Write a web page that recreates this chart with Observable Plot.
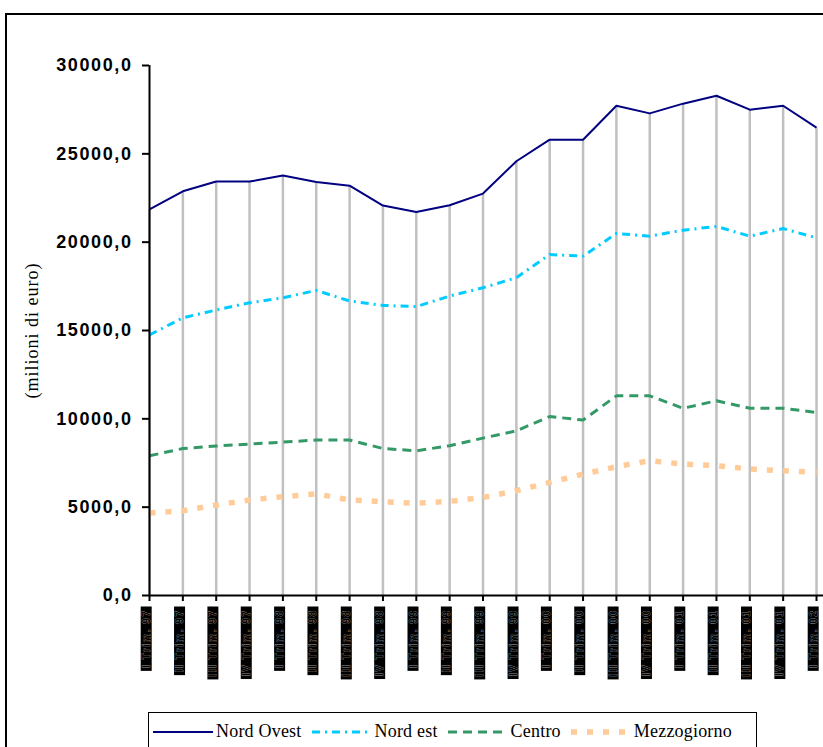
<!DOCTYPE html>
<html>
<head>
<meta charset="utf-8">
<script src="https://cdn.jsdelivr.net/npm/d3@7"></script>
<script src="https://cdn.jsdelivr.net/npm/@observablehq/plot@0.6"></script>
<style>
  html, body { margin: 0; padding: 0; background: #fff; width: 823px; height: 747px; overflow: hidden; }
  #frame { position: absolute; left: 5px; top: 13px; width: 2000px; height: 2000px; border-left: 2px solid #000; border-top: 2px solid #000; }
  #chart { position: absolute; left: 0; top: 0; }
  #legend { position: absolute; left: 148px; top: 712px; width: 609px; height: 60px; border: 1.5px solid #000; background: #fff;
            font-family: "Liberation Serif", "Times New Roman", serif; font-size: 18px; letter-spacing: 0.2px; color: #000; display: flex; align-items: flex-start; padding-top: 8px; box-sizing: border-box; padding-left: 4px; }
  #legend .item { display: flex; align-items: center; margin-right: 10px; }
  #legend svg { margin-right: 3px; }
</style>
</head>
<body>
<div id="frame"></div>
<div id="chart"></div>
<div id="legend"></div>
<script>
const quarters = [
  "I Trim. 97","II Trim. 97","III Trim. 97","IV Trim. 97",
  "I Trim. 98","II Trim. 98","III Trim. 98","IV Trim. 98",
  "I Trim. 99","II Trim. 99","III Trim. 99","IV Trim. 99",
  "I Trim. 00","II Trim. 00","III Trim. 00","IV Trim. 00",
  "I Trim. 01","II Trim. 01","III Trim. 01","IV Trim. 01",
  "I Trim. 02"
];
const nordOvest   = [21850,22880,23430,23430,23770,23410,23200,22070,21710,22090,22750,24580,25800,25800,27720,27290,27840,28290,27500,27720,26480];
const nordEst     = [14750,15720,16160,16570,16850,17270,16670,16420,16350,16950,17420,17990,19300,19210,20490,20340,20680,20890,20340,20770,20240];
const centro      = [7910,8320,8460,8570,8680,8800,8800,8320,8190,8480,8910,9320,10130,9930,11300,11300,10600,11020,10600,10600,10360];
const mezzogiorno = [4670,4800,5120,5410,5590,5750,5410,5310,5220,5330,5550,5930,6400,6870,7290,7630,7440,7350,7160,7060,6970];
const seriesNames = ["Nord Ovest","Nord est","Centro","Mezzogiorno"];
const yTicks = [0,5000,10000,15000,20000,25000,30000];
const yTitle = "(milioni di euro)";

const styles = {
  "Nord Ovest":  {color: "#000080", width: 2,   dash: null},
  "Nord est":    {color: "#00ccff", width: 3,   dash: "8,5,2,5"},
  "Centro":      {color: "#339966", width: 3,   dash: "9,6"},
  "Mezzogiorno": {color: "#ffcc99", width: 5.5, dash: "6,10"}
};
const values = [nordOvest, nordEst, centro, mezzogiorno];
const rows = [];
seriesNames.forEach((s, k) => values[k].forEach((v, i) => rows.push({series: s, q: quarters[i], v})));
const tops = quarters.map((q, i) => ({q, v: nordOvest[i]}));

const fmt = d => d.toFixed(1).replace(".", ",");

const lineMarks = seriesNames.map(s => Plot.line(rows.filter(r => r.series === s), {
  x: "q", y: "v", stroke: styles[s].color, strokeWidth: styles[s].width,
  strokeDasharray: styles[s].dash, strokeLinejoin: "round", strokeLinecap: "butt"
}));

const chart = Plot.plot({
  width: 823,
  height: 700,
  marginLeft: 149,
  marginRight: 7,
  marginTop: 65,
  marginBottom: 105,
  style: {background: "transparent", overflow: "visible"},
  x: {type: "point", domain: quarters, padding: 0, round: false},
  y: {type: "linear", domain: [0, 30000]},
  marks: [
    Plot.ruleX(tops, {x: "q", y1: 0, y2: "v", stroke: "#c0c0c0", strokeWidth: 2.5}),
    ...lineMarks,
    Plot.ruleY([0], {stroke: "#000", strokeWidth: 2, insetRight: -7}),
    Plot.ruleX([quarters[0]], {y1: 0, y2: 30000, stroke: "#000", strokeWidth: 2}),
    Plot.axisX({tickSize: 6, tickFormat: () => "", label: null, stroke: "#000", strokeWidth: 2}),
    Plot.axisY({ticks: yTicks, tickSize: 7, tickPadding: 10, tickFormat: fmt, fontSize: 18, fontWeight: "bold",
      fontFamily: "'Liberation Sans', Arial, sans-serif", label: null, stroke: "#000", strokeWidth: 2, fill: "#000"}),
    Plot.text([yTitle], {frameAnchor: "left", dx: -117, rotate: -90, text: d => d, fontSize: 18, textAnchor: "middle",
      fontFamily: "'Liberation Serif', 'Times New Roman', serif", fill: "#000", lineAnchor: "middle"}),
    Plot.text(quarters, {x: d => d, y: () => 0, dy: 14, dx: -3, rotate: -90, text: d => d, textAnchor: "end",
      lineAnchor: "middle", fontSize: 10, fontWeight: "bold", fontFamily: "'Liberation Sans', Arial, sans-serif",
      fill: "#000", stroke: "#a0a0a0", strokeWidth: 0.6})
  ]
});
document.getElementById("chart").appendChild(chart);

const svgEl = chart.tagName.toLowerCase() === "svg" ? chart : chart.querySelector("svg");
const qset = new Set(quarters);
svgEl.querySelectorAll("text").forEach(t => {
  const s = t.textContent;
  if (s === yTitle) t.setAttribute("letter-spacing", "1px");
  if (/^\d+,0$/.test(s)) t.setAttribute("letter-spacing", "1.6px");
  if (qset.has(s)) {
    t.setAttribute("letter-spacing", "1.5px");
    const bb = t.getBBox();
    const cy = bb.y + bb.height / 2;
    const r = document.createElementNS("http://www.w3.org/2000/svg", "rect");
    r.setAttribute("x", bb.x - 3);
    r.setAttribute("width", bb.width + 6);
    r.setAttribute("y", cy - 5.5);
    r.setAttribute("height", 11);
    r.setAttribute("fill", "#000");
    r.setAttribute("stroke", "none");
    const tr = t.getAttribute("transform");
    if (tr) r.setAttribute("transform", tr);
    t.parentNode.insertBefore(r, t);
  }
});

const legend = d3.select("#legend");
seriesNames.forEach(s => {
  const it = legend.append("div").attr("class", "item");
  const sv = it.append("svg").attr("width", 60).attr("height", 12);
  sv.append("line").attr("x1", 0).attr("x2", 60).attr("y1", 6).attr("y2", 6)
    .attr("stroke", styles[s].color).attr("stroke-width", styles[s].width)
    .attr("stroke-dasharray", styles[s].dash);
  it.append("span").text(s);
});
</script>
</body>
</html>
